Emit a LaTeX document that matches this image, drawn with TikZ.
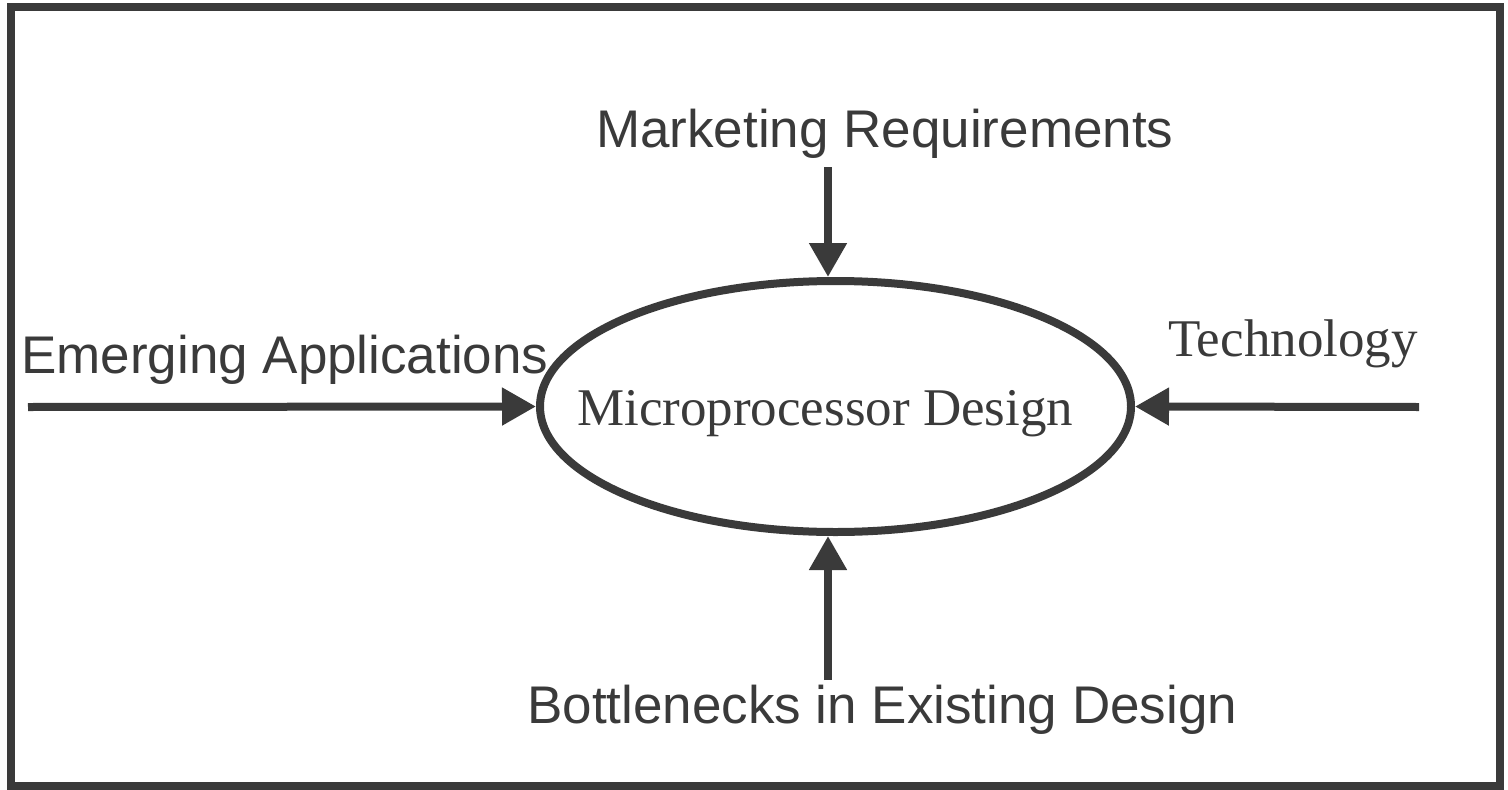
\documentclass[tikz,border=0pt]{standalone}
\usepackage{fontspec}
\setmainfont{Liberation Serif}
\newfontfamily\labelfont{Liberation Sans}
\usetikzlibrary{arrows.meta,shapes.geometric}

\definecolor{ink}{HTML}{3A3A3A}

\tikzset{
	inflow/.style={ink, line width=8pt, -{Triangle[length=34pt,width=36pt]}},
	sanslabel/.style={anchor=base west, inner sep=0pt, text=ink, font=\labelfont\fontsize{53}{60}\selectfont},
	seriflabel/.style={anchor=base west, inner sep=0pt, text=ink, font=\fontsize{53}{60}\selectfont}
}

\begin{document}
\begin{tikzpicture}[x=1pt, y=-1pt]
	\useasboundingbox (0,0) rectangle (1508,790);

	% Outer frame
	\draw[ink, line width=8pt] (11,7) rectangle (1500,786);

	% Central ellipse
	\node[ellipse, draw=ink, line width=8pt, inner sep=0pt,
		minimum width=591pt, minimum height=251pt] (design) at (835.5,406.5) {};
	\node[seriflabel] (designlabel) at (577,425) {Microprocessor Design};

	% Labels round the ellipse
	\node[sanslabel] (market) at (596,147) {Marketing Requirements};
	\node[sanslabel] (apps) at (21,373) {Emerging Applications};
	\node[seriflabel] (tech) at (1168,356) {Technology};
	\node[sanslabel] (bottle) at (527,723) {Bottlenecks in Existing Design};

	% Free ends of the arrows
	\coordinate (markettail) at (828,167);
	\coordinate (appstail) at (28,407);
	\coordinate (techtail) at (1419,407);
	\coordinate (bottletail) at (828,680);

	% Arrows into the ellipse
	\draw[inflow] (markettail) -- (markettail |- design.north);
	\draw[inflow] (appstail) -- (design.west);
	\draw[inflow] (techtail) -- (design.east);
	\draw[inflow] (bottletail) -- (bottletail |- design.south);

\end{tikzpicture}
\end{document}
